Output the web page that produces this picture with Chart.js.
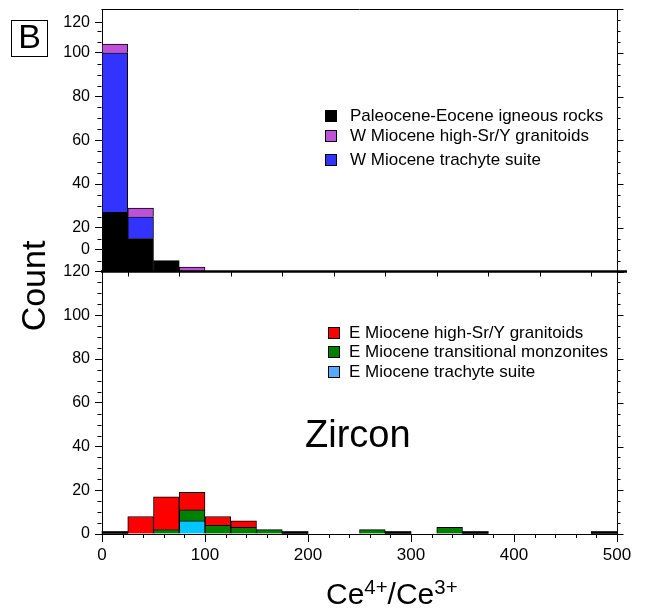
<!DOCTYPE html>
<html>
<head>
<meta charset="utf-8">
<title>Zircon Ce4+/Ce3+ histogram</title>
<script src="https://cdn.jsdelivr.net/npm/chart.js@4.4.1/dist/chart.umd.min.js"></script>
<style>
  body { margin: 0; background: #fff; }
  #wrap { position: relative; width: 646px; height: 614px; font-family: "Liberation Sans", Arial, sans-serif; color: #000; }
  #chart { position: absolute; left: 0; top: 0; }
  .tag { position: absolute; left: 11px; top: 20px; width: 37px; height: 37px; box-sizing: border-box; border: 1px solid #000; font-size: 34px; line-height: 31px; text-align: center; }
  .ytitle { position: absolute; left: 33px; top: 286px; font-size: 34px; line-height: 34px; white-space: nowrap; transform: translate(-50%, -50%) rotate(-90deg); }
  .xtitle { position: absolute; left: 326px; top: 579px; font-size: 30px; line-height: 30px; white-space: nowrap; }
  .xtitle sup { font-size: 0.68em; vertical-align: baseline; position: relative; top: -0.5em; }
  .note { position: absolute; left: 305px; top: 415px; font-size: 38px; line-height: 38px; }
</style>
</head>
<body>
<div id="wrap">
  <canvas id="chart" width="646" height="614"></canvas>
  <div class="tag">B</div>
  <div class="ytitle">Count</div>
  <div class="xtitle">Ce<sup>4+</sup>/Ce<sup>3+</sup></div>
  <div class="note">Zircon</div>
</div>
<script>
// histogram bins (left edges), all 25 wide
const binStarts = [0, 25, 50, 75, 100, 125, 150, 175, 200, 225, 250, 275, 300, 325, 350, 375, 400, 425, 450, 475];
const BIN_WIDTH = 25;

// upper panel counts
const paleoceneEocene = [27, 15, 5, 0, 0, 0, 0, 0, 0, 0, 0, 0, 0, 0, 0, 0, 0, 0, 0, 0];
const wTrachyte =       [73, 10, 0, 0, 0, 0, 0, 0, 0, 0, 0, 0, 0, 0, 0, 0, 0, 0, 0, 0];
const wHighSrY =        [4, 4, 0, 2, 0, 0, 0, 0, 0, 0, 0, 0, 0, 0, 0, 0, 0, 0, 0, 0];

// lower panel counts
const eTrachyte =       [0, 0, 0, 6, 0, 0, 0, 0, 0, 0, 0, 0, 0, 0, 0, 0, 0, 0, 0, 0];
const eTransitional =   [0, 0, 2, 5, 4, 3, 2, 0, 0, 0, 2, 0, 0, 3, 0, 0, 0, 0, 0, 0];
const eHighSrY =        [0, 8, 15, 8, 4, 3, 0, 0, 0, 0, 0, 0, 0, 0, 0, 0, 0, 0, 0, 0];
// empty bins that still get an outline on the baseline
const emptyBins =       [0, null, null, null, null, null, null, 0, null, null, null, 0, null, null, 0, null, null, null, null, 0];

// upper axis labels sit at odd spots in the original layout
const topTickValues = [10, 20, 40, 60, 80, 100, 114];
const topTickLabels = ['0', '20', '40', '60', '80', '100', '120'];

const topLegend = ['Paleocene-Eocene igneous rocks', 'W Miocene high-Sr/Y granitoids', 'W Miocene trachyte suite'];
const bottomLegend = ['E Miocene high-Sr/Y granitoids', 'E Miocene transitional monzonites', 'E Miocene trachyte suite'];

const FONT = '"Liberation Sans", Arial, sans-serif';

const toPoints = (counts) => counts.map((c, i) => ({ x: binStarts[i] + BIN_WIDTH / 2, y: c }));

const barStyle = {
    borderColor: '#000',
    borderWidth: 1,
    barPercentage: 1,
    categoryPercentage: 1,
};

const crisp = (v) => Math.round(v) + 0.5;

// y axes: fixed width, and no extra room for the end labels
const fitYAxis = (s) => {
    s.width = 102;
    s.paddingTop = 0;
    s.paddingBottom = 0;
};

// frame, minor ticks, panel divider and the two in-plot legends
const panelDecor = {
    id: 'panelDecor',
    afterDatasetsDraw(chart, args, opts) {
        const { ctx, chartArea: area, scales } = chart;
        const { x, yTop, yBot } = scales;
        const line = (x0, y0, x1, y1) => {
            ctx.beginPath();
            ctx.moveTo(x0, y0);
            ctx.lineTo(x1, y1);
            ctx.stroke();
        };
        ctx.save();
        ctx.strokeStyle = '#000';
        ctx.lineWidth = 1;

        const left = crisp(area.left - 1);
        const right = crisp(area.right);
        line(left, crisp(area.top), right, crisp(area.top));
        line(right, area.top, right, area.bottom);

        // left minor ticks
        for (let v = 5; v <= 110; v += 5) {
            if (topTickValues.includes(v)) continue;
            const py = crisp(yTop.getPixelForValue(v));
            line(left - 4, py, left, py);
        }
        for (let v = 5; v < 120; v += 5) {
            if (v % 20 === 0) continue;
            const py = crisp(yBot.getPixelForValue(v));
            line(left - 4, py, left, py);
        }
        // right ticks
        [yTop, yBot].forEach((scale) => {
            for (let v = 0; v <= 120; v += 5) {
                const py = crisp(scale.getPixelForValue(v));
                line(right, py, right + (v % 20 === 0 ? 6 : 3), py);
            }
        });
        // bottom minor ticks
        for (let v = 20; v < 500; v += 20) {
            if (v % 100 === 0) continue;
            const px = crisp(x.getPixelForValue(v));
            line(px, area.bottom, px, area.bottom + 4);
        }

        // divider between the panels
        const divY = yTop.getPixelForValue(0);
        for (let v = 25; v < 500; v += 50) {
            const px = crisp(x.getPixelForValue(v));
            line(px, divY, px, divY + 5);
        }
        ctx.lineWidth = 2.5;
        line(area.left - 1, divY, area.right + 10, divY);

        // legends
        ctx.lineWidth = 1;
        ctx.font = `17px ${FONT}`;
        ctx.textBaseline = 'middle';
        ctx.fillStyle = '#000';
        opts.legends.forEach((lg) => {
            lg.labels.forEach((label, i) => {
                const ds = chart.data.datasets.find((d) => d.label === label);
                const cy = lg.rows[i];
                ctx.fillStyle = ds.legendColor || ds.backgroundColor;
                ctx.fillRect(lg.boxX, cy - 6, 12, 12);
                ctx.strokeRect(lg.boxX + 0.5, cy - 5.5, 11, 11);
                ctx.fillStyle = '#000';
                ctx.fillText(label, lg.textX, cy);
            });
        });
        ctx.restore();
    },
};

const yTickFont = { family: FONT, size: 16 };

new Chart(document.getElementById('chart'), {
    type: 'bar',
    data: {
        datasets: [
            { label: 'Paleocene-Eocene igneous rocks', data: toPoints(paleoceneEocene), yAxisID: 'yTop', backgroundColor: '#000000', ...barStyle },
            { label: 'W Miocene trachyte suite', data: toPoints(wTrachyte), yAxisID: 'yTop', backgroundColor: '#3333ff', ...barStyle },
            { label: 'W Miocene high-Sr/Y granitoids', data: toPoints(wHighSrY), yAxisID: 'yTop', backgroundColor: '#bf50d8', ...barStyle },
            { label: 'empty bins', data: toPoints(emptyBins), yAxisID: 'yBot', backgroundColor: '#000000', ...barStyle, borderWidth: 0, minBarLength: 2.5, clip: false },
            { label: 'E Miocene trachyte suite', data: toPoints(eTrachyte), yAxisID: 'yBot', backgroundColor: '#00c6ff', legendColor: '#55aaff', ...barStyle },
            { label: 'E Miocene transitional monzonites', data: toPoints(eTransitional), yAxisID: 'yBot', backgroundColor: '#008000', ...barStyle },
            { label: 'E Miocene high-Sr/Y granitoids', data: toPoints(eHighSrY), yAxisID: 'yBot', backgroundColor: '#ff0000', ...barStyle },
        ],
    },
    options: {
        responsive: false,
        animation: false,
        layout: { padding: { top: 9, right: 29, left: 0, bottom: 0 } },
        plugins: {
            legend: { display: false },
            tooltip: { enabled: false },
            panelDecor: {
                legends: [
                    { labels: topLegend, boxX: 325, textX: 350, rows: [116, 136, 160] },
                    { labels: bottomLegend, boxX: 328, textX: 349, rows: [333, 352, 372] },
                ],
            },
        },
        scales: {
            x: {
                type: 'linear',
                min: 0,
                max: 500,
                offset: false,
                stacked: true,
                ticks: { stepSize: 100, color: '#000', font: { family: FONT, size: 17 }, padding: 3, maxRotation: 0 },
                grid: { offset: false, drawOnChartArea: false, tickLength: 8, tickColor: '#000' },
                border: { color: '#000' },
                afterFit: (s) => { s.height = 80; },
            },
            yBot: {
                type: 'linear',
                position: 'left',
                stack: 'panels',
                stackWeight: 1,
                stacked: true,
                min: 0,
                max: 120,
                ticks: { stepSize: 20, color: '#000', font: yTickFont, padding: 5 },
                grid: { drawOnChartArea: false, tickLength: 7, tickColor: '#000' },
                border: { color: '#000' },
                afterFit: fitYAxis,
            },
            yTop: {
                type: 'linear',
                position: 'left',
                stack: 'panels',
                stackWeight: 1,
                stacked: true,
                min: 0,
                max: 120,
                afterBuildTicks: (s) => { s.ticks = topTickValues.map((v) => ({ value: v })); },
                ticks: { color: '#000', font: yTickFont, padding: 5, callback: (v, i) => topTickLabels[i] },
                grid: { drawOnChartArea: false, tickLength: 7, tickColor: '#000' },
                border: { color: '#000' },
                afterFit: fitYAxis,
            },
        },
    },
    plugins: [panelDecor],
});
</script>
</body>
</html>
